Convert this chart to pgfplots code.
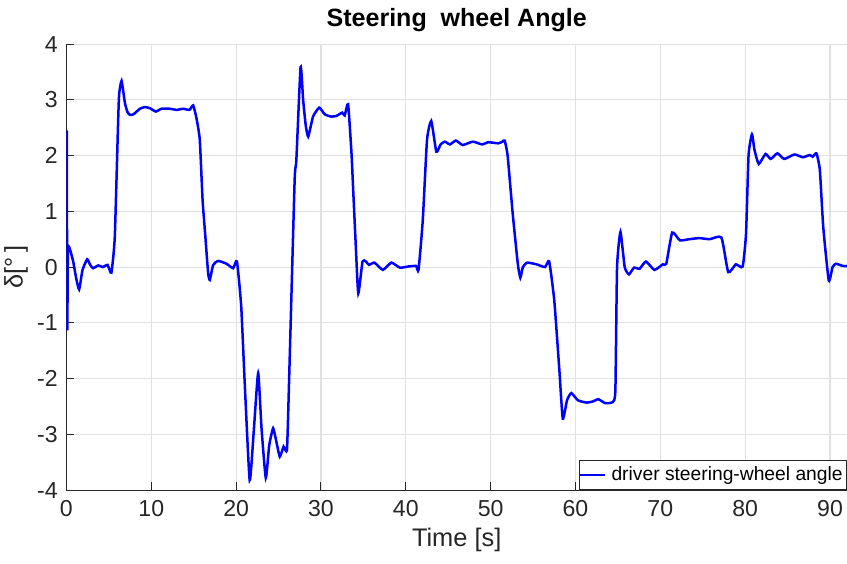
\documentclass[border=0pt]{standalone}
\usepackage{pgfplots}
\pgfplotsset{compat=1.18}
\usepackage{fontspec}
\setmainfont{Liberation Sans}
\definecolor{gridc}{RGB}{225,225,225}
\definecolor{axc}{RGB}{38,38,38}
\begin{document}
\begin{tikzpicture}
\begin{axis}[
  scale only axis,
  width=405.5pt, height=231.7pt,
  xmin=0, xmax=92, ymin=-4, ymax=4,
  xtick={0,10,...,90}, ytick={-4,-3,...,4},
  axis x line=bottom, axis y line=left,
  axis line style={-, color=axc, line width=0.5pt},
  tick style={color=axc, line width=0.5pt},
  tick align=inside,
  major tick length=4pt,
  grid=major,
  major grid style={color=gridc, line width=0.6pt},
  /pgf/number format/assume math mode=true,
  ticklabel style={font=\fontsize{12}{14}\selectfont, color=axc},
  xticklabel style={yshift=-2pt},
  yticklabel style={xshift=-1pt},
  xlabel={Time [s]},
  ylabel={δ[°\,]},
  label style={font=\fontsize{13.2}{15}\selectfont, color=axc},
  xlabel style={yshift=1pt},
  ylabel style={yshift=-2pt},
  title={\bfseries Steering\ \ wheel Angle},
  title style={font=\fontsize{13}{15}\selectfont, yshift=-3pt},
  legend style={at={(rel axis cs:1,0)}, anchor=south east, draw=axc, fill=white,
    font=\fontsize{10}{12}\selectfont, inner xsep=0pt, inner ysep=1.2pt, line width=0.5pt,
    legend cell align=left, /tikz/every odd column/.append style={column sep=1pt}},
  legend image code/.code={\draw[#1] (0pt,0pt) -- (12.5pt,0pt);},
]
\addplot[color=blue, line width=1.3pt, smooth, tension=0.3] coordinates {
(0.00,0.0) (0.04,2.45) (0.10,-1.12) (0.18,0.33) (0.45,0.30) (0.8,0.10) (1.15,-0.20)
(1.5,-0.40) (1.9,-0.05) (2.45,0.14) (2.8,0.04) (3.16,-0.02) (3.75,0.03) (4.3,0.0)
(4.85,0.04) (5.3,-0.10) (5.7,0.54) (6.1,2.64) (6.22,3.11) (6.5,3.34) (6.9,2.94)
(7.2,2.78) (7.5,2.73) (7.9,2.74) (8.66,2.84) (9.25,2.87) (9.83,2.85) (10.54,2.79)
(11.2,2.84) (12.2,2.84) (13.0,2.82) (13.76,2.84) (14.5,2.82) (14.94,2.90) (15.33,2.67)
(15.72,2.28) (16.05,1.2) (16.35,0.6) (16.7,-0.1) (16.9,-0.23) (17.3,0.04) (17.9,0.11)
(18.87,0.06) (19.65,-0.02) (20.1,0.10) (20.6,-0.7) (21.0,-2.03) (21.6,-3.82) (22.1,-2.9)
(22.6,-1.90) (23.0,-2.9) (23.5,-3.78) (23.9,-3.2) (24.36,-2.89) (24.7,-3.1) (25.15,-3.40)
(25.6,-3.22) (26.0,-3.26) (26.3,-1.73) (26.9,1.56) (27.1,1.92) (27.6,3.59) (27.9,3.0)
(28.2,2.55) (28.5,2.34) (29.07,2.70) (29.8,2.86) (30.45,2.74) (31.2,2.70) (31.8,2.71)
(32.5,2.77) (32.8,2.72) (33.2,2.92) (33.6,2.04) (33.8,1.38) (34.1,0.4) (34.4,-0.47)
(34.9,0.10) (35.3,0.10) (35.67,0.04) (36.3,0.08) (37.3,-0.05) (38.3,0.08) (39.3,-0.01)
(40.26,0.01) (41.2,0.02) (41.5,-0.05) (42.0,0.84) (42.5,2.28) (43.0,2.62) (43.6,2.07)
(44.1,2.20) (44.6,2.25) (45.2,2.20) (45.9,2.27) (46.7,2.19) (47.9,2.25) (49.0,2.20)
(49.7,2.24) (50.9,2.22) (51.4,2.25) (51.65,2.27) (52.0,2.0) (52.6,0.96) (53.2,0.06)
(53.5,-0.19) (53.8,0.0) (54.3,0.08) (55.4,0.05) (56.4,0.00) (56.9,0.10) (57.5,-0.60)
(58.1,-1.85) (58.5,-2.72) (59.0,-2.39) (59.5,-2.26) (60.3,-2.39) (61.3,-2.43) (62.05,-2.41)
(62.7,-2.37) (63.5,-2.44) (64.4,-2.42) (64.7,-2.21) (64.9,0.0) (65.3,0.63) (65.8,0.0)
(66.3,-0.13) (66.9,-0.01) (67.55,-0.03) (68.3,0.10) (69.3,-0.05) (70.3,0.05) (70.7,0.06)
(71.4,0.62) (72.3,0.48) (73.4,0.50) (74.6,0.52) (75.8,0.50) (77.2,0.53) (78.0,-0.09)
(78.9,0.05) (79.7,0.01) (80.1,0.6) (80.4,2.01) (80.8,2.38) (81.1,2.10) (81.6,1.85)
(82.4,2.03) (83.0,1.94) (83.8,2.04) (84.6,1.94) (85.8,2.02) (86.8,1.97) (87.6,2.01)
(87.96,1.98) (88.4,2.04) (88.8,1.74) (89.2,0.72) (89.85,-0.24) (90.3,0.0) (90.7,0.06)
(91.5,0.02) (92.0,0.02)
};
\addlegendentry{driver steering-wheel angle}
\coordinate (bl) at (rel axis cs:0,0);
\coordinate (tr) at (rel axis cs:1,1);
\end{axis}
\pgfresetboundingbox
\path[use as bounding box] ([xshift=-34.5pt,yshift=-37.9pt]bl) rectangle ([yshift=22.9pt]tr);
\end{tikzpicture}
\end{document}
